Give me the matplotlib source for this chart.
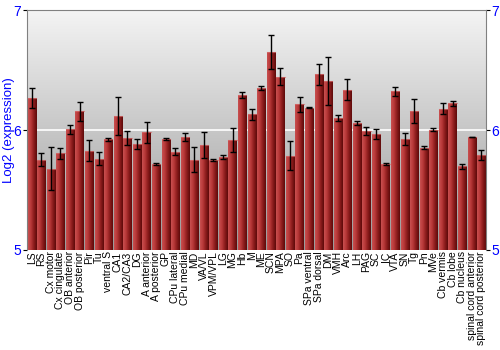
import numpy as np
import matplotlib
matplotlib.use("Agg")
import matplotlib.pyplot as plt
from matplotlib.colors import LinearSegmentedColormap

regions = ["LS", "RS", "Cx motor", "Cx cingulate", "OB anterior", "OB posterior", "Pir", "Tu",
           "ventral S", "CA1", "CA2/CA3", "DG", "A anterior", "A posterior", "GP", "CPu lateral",
           "CPu medial", "MD", "VA/VL", "VPM/VPL", "LG", "MG", "Hb", "M", "ME", "SCN", "MPA", "SO",
           "Pa", "SPa ventral", "SPa dorsal", "DM", "VMH", "Arc", "LH", "PAG", "SC", "IC", "VTA",
           "SN", "Tg", "Pn", "MVe", "Cb vermis", "Cb lobe", "Cb nucleus", "spinal cord anterior",
           "spinal cord posterior"]
expr = [6.268, 5.754, 5.677, 5.807, 6.008, 6.155, 5.829, 5.760,
        5.923, 6.116, 5.931, 5.884, 5.981, 5.718, 5.923, 5.818,
        5.942, 5.751, 5.873, 5.751, 5.776, 5.917, 6.290, 6.130, 6.354, 6.652, 6.445, 5.787,
        6.215, 6.185, 6.464, 6.406, 6.100, 6.337, 6.055, 5.992, 5.967, 5.718, 6.323,
        5.925, 6.160, 5.854, 6.003, 6.177, 6.224, 5.696, 5.942,
        5.793]
err = [0.083, 0.057, 0.180, 0.047, 0.037, 0.077, 0.090, 0.055,
       0.012, 0.160, 0.058, 0.044, 0.086, 0.006, 0.008, 0.030,
       0.030, 0.105, 0.110, 0.007, 0.018, 0.102, 0.024, 0.048, 0.017, 0.140, 0.073, 0.120,
       0.062, 0.004, 0.088, 0.200, 0.026, 0.090, 0.017, 0.036, 0.041, 0.011, 0.039,
       0.049, 0.100, 0.012, 0.011, 0.046, 0.022, 0.022, 0.002,
       0.043]

plt.rcParams['font.family'] = ['Liberation Sans', 'DejaVu Sans']

fig = plt.figure(figsize=(5, 3.5), dpi=100)
ax = fig.add_axes([0.054, 0.286, 0.918, 0.685])

x = np.arange(len(regions))
base = 5

# grey background gradient
bg = LinearSegmentedColormap.from_list("bg", ["#9a9a9a", "#f4f4f4"])
ax.imshow(np.linspace(0, 1, 256).reshape(-1, 1), cmap=bg, aspect="auto",
          extent=(-0.5, len(regions) - 0.5, 5, 7), origin="lower", zorder=0)
ax.axhline(6, color="white", lw=1.2, zorder=1)

# bars with horizontal red shading
red = LinearSegmentedColormap.from_list("red", ["#c85050", "#b83838", "#8a1c1c", "#5e0a0a"])
grad = np.linspace(0, 1, 64).reshape(1, -1)
heights = [v - base for v in expr]
bars = ax.bar(x, heights, width=0.86, bottom=base, color="none", edgecolor="none", zorder=2)
for b in bars:
    x0, w, h = b.get_x(), b.get_width(), b.get_height()
    im = ax.imshow(grad, cmap=red, aspect="auto", extent=(x0, x0 + w, base, base + h), zorder=2)
    im.set_clip_path(b)
    ax.plot([x0, x0 + w], [base + h, base + h], color="#d87070", lw=0.8, alpha=0.7, zorder=3)
ax.set_xlim(-0.5, len(regions) - 0.5)
ax.set_ylim(5, 7)

ax.errorbar(x, expr, yerr=err, fmt="none", ecolor="black", elinewidth=1,
            capsize=2.2, capthick=1, zorder=4)

ax.set_yticks([5, 6, 7])
ax.tick_params(axis="y", which="both", labelsize=10, colors="black", labelcolor="blue",
               length=3, direction="out", right=True, labelright=True, pad=1)
ax.set_xticks(x)
ax.set_xticklabels(regions, rotation=90, fontsize=7.5)
ax.tick_params(axis="x", length=0, pad=1)
fig.text(0.018, 0.628, "Log2 (expression)", color="blue", fontsize=9.5,
         rotation=90, ha="center", va="center")

for s in ["top", "right", "left"]:
    ax.spines[s].set_color("#808080")
ax.spines["bottom"].set_visible(False)

fig.savefig("out.png", dpi=100)
